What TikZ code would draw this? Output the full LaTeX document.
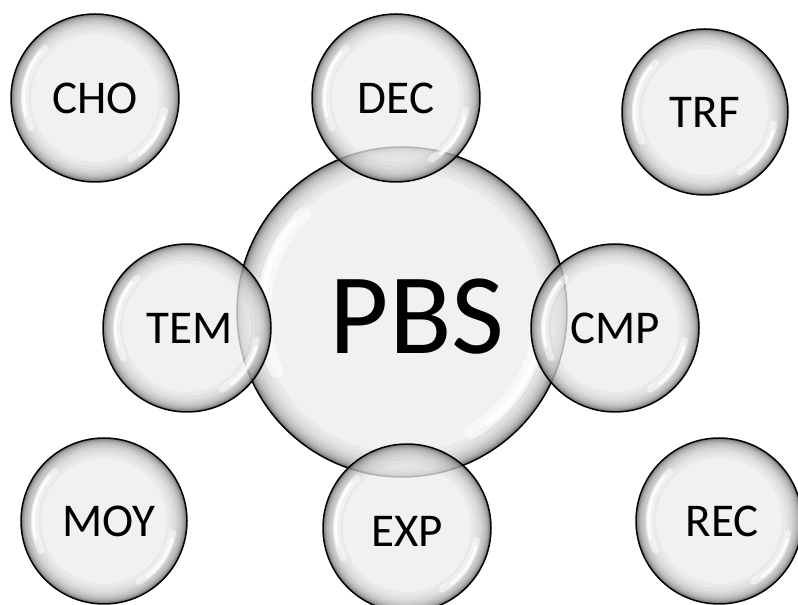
\documentclass[tikz,border=0pt]{standalone}
\usepackage{fontspec}
\setmainfont{Carlito}
\tikzset{
  bubble/.style={circle, draw=black, line width=1.5pt, fill=black!7,
    fill opacity=0.75, draw opacity=0.95, text opacity=1, inner sep=0pt,
    font=\fontsize{47}{50}\selectfont},
  shine/.style={white, line cap=round}
}
% #1 node name, #2 radius, #3 rim band width
\newcommand\bubblelook[3]{%
  \foreach \w/\o in {1.0/0.03, 0.8/0.03, 0.62/0.04, 0.48/0.05, 0.36/0.06, 0.26/0.07, 0.18/0.09, 0.12/0.11, 0.07/0.13, 0.035/0.16}{
    \draw[black, opacity=\o, line width=\w*#3] (#1.center) circle[radius={#2-\w*#3/2}];
  }
  \draw[shine, opacity=.5, line width=0.085*#2]
    ([shift={(135:0.84*#2)}]#1.center) arc[start angle=135, end angle=205, radius=0.84*#2];
  \draw[shine, opacity=.85, line width=0.035*#2]
    ([shift={(140:0.85*#2)}]#1.center) arc[start angle=140, end angle=195, radius=0.85*#2];
  \draw[shine, opacity=.5, line width=0.085*#2]
    ([shift={(-10:0.84*#2)}]#1.center) arc[start angle=-10, end angle=-60, radius=0.84*#2];
  \draw[shine, opacity=.85, line width=0.035*#2]
    ([shift={(-15:0.85*#2)}]#1.center) arc[start angle=-15, end angle=-52, radius=0.85*#2];
}
\begin{document}
\begin{tikzpicture}[x=1pt,y=1pt]
\useasboundingbox (0,0) rectangle (798,605);
\clip (0,0) rectangle (798,605);
\fill[white] (0,0) rectangle (798,605);

\node[bubble, minimum size=330pt, font=\fontsize{115}{120}\selectfont] (PBS) at (402,293) {\hspace*{30pt}\rule{0pt}{84pt}PBS};
\bubblelook{PBS}{165}{24}

\node[bubble, minimum size=168pt] (CHO) at (95,507) {CHO};
\bubblelook{CHO}{84}{20}
\node[bubble, minimum size=168pt] (DEC) at (396,507) {DEC};
\bubblelook{DEC}{84}{20}
\node[bubble, minimum size=166pt] (TRF) at (705,493) {TRF};
\bubblelook{TRF}{83}{20}
\node[bubble, minimum size=168pt] (TEM) at (187,277) {\hspace*{6pt}TEM};
\bubblelook{TEM}{84}{20}
\node[bubble, minimum size=168pt] (CMP) at (615,277) {CMP};
\bubblelook{CMP}{84}{20}
\node[bubble, minimum size=166pt] (MOY) at (104,84) {\hspace*{10pt}MOY};
\bubblelook{MOY}{83}{20}
\node[bubble, minimum size=168pt] (EXP) at (407,77) {\rule{0pt}{38pt}EXP};
\bubblelook{EXP}{84}{20}
\node[bubble, minimum size=166pt] (REC) at (719,84) {\hspace*{6pt}REC};
\bubblelook{REC}{83}{20}
\end{tikzpicture}
\end{document}
